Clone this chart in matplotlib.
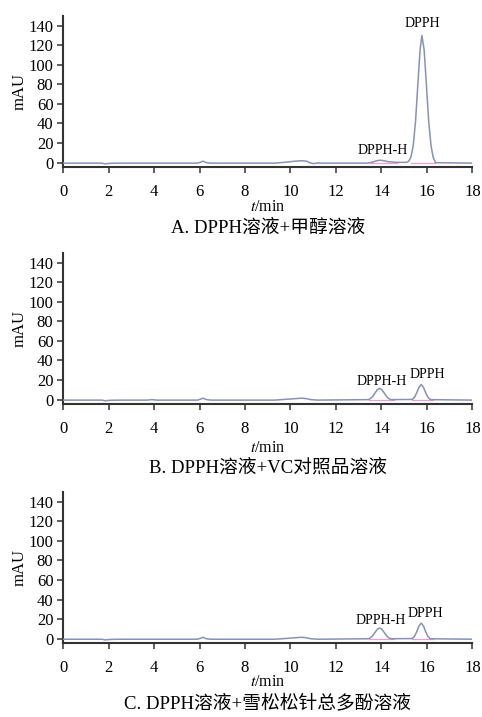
import numpy as np
import matplotlib.pyplot as plt

plt.rcParams['font.family'] = ['Liberation Serif', 'Noto Sans CJK SC']
plt.rcParams['mathtext.fontset'] = 'stix'

# retention time (min) and absorbance (mAU)
t_a = [0, 1.7, 1.85, 2.0, 2.2, 2.6, 5.9, 6.05, 6.15, 6.3, 6.5, 9.3, 9.8, 10.2, 10.5,
       10.7, 10.85, 11.0, 11.2, 11.4, 13.4, 13.6, 13.8, 13.95, 14.1, 14.3, 14.7, 15.1,
       15.2, 15.3, 15.4, 15.5, 15.6, 15.7, 15.78, 15.88, 15.98, 16.08, 16.18, 16.28, 16.38, 18]
y_a = [-0.5, -0.5, -1.2, -0.8, -0.6, -0.5, -0.5, 0.5, 1.5, 0, -0.5, -0.5, 0.5, 1.5, 2.0,
       1.5, 0, -1.0, -0.3, -0.5, -0.5, 0.5, 2.0, 2.5, 2.0, 1.0, 0.3, 0.3,
       1.4, 5.7, 17.6, 42, 79, 115, 130, 115, 79, 42, 17.6, 5, 0, -0.5]

t_b = [0, 1.7, 1.85, 2.0, 2.2, 2.6, 3.7, 3.9, 4.1, 5.9, 6.05, 6.15, 6.3, 6.5, 9.3, 9.8,
       10.2, 10.5, 10.7, 10.9, 11.2, 13.42, 13.52, 13.62, 13.72, 13.82, 13.92, 14.02, 14.12,
       14.22, 14.32, 14.42, 15.35, 15.45, 15.55, 15.65, 15.75, 15.85, 15.95, 16.05, 16.15, 18]
y_b = [-0.5, -0.5, -1.2, -0.8, -0.6, -0.5, -0.5, 0, -0.5, -0.5, 0.5, 1.5, 0, -0.5, -0.5, 0.3,
       1.0, 1.5, 1.0, 0, -0.5, 0, 1.1, 3.4, 6.8, 10.1, 11.5, 10.1, 6.8,
       3.4, 1.1, 0, 0.2, 2.2, 6.8, 12.5, 15.5, 12.5, 6.8, 2.2, 0, -0.5]

t_c = [0, 1.7, 1.85, 2.0, 2.2, 2.6, 5.9, 6.05, 6.15, 6.3, 6.5, 9.3, 9.8, 10.2, 10.5,
       10.7, 10.9, 11.2, 13.42, 13.52, 13.62, 13.72, 13.82, 13.92, 14.02, 14.12,
       14.22, 14.32, 14.42, 15.35, 15.45, 15.55, 15.65, 15.75, 15.85, 15.95, 16.05, 16.15, 18]
y_c = [-0.5, -0.5, -1.2, -0.8, -0.6, -0.5, -0.5, 0.5, 1.5, 0, -0.5, -0.5, 0.3, 1.0, 1.5,
       1.0, 0, -0.5, 0, 1.0, 3.2, 6.5, 9.7, 11.0, 9.7, 6.5,
       3.2, 1.0, 0, 0.2, 2.2, 7, 13, 16, 13, 7, 2.2, 0, -0.5]

# integration baselines (start, end) under the peaks
base_a = [(13.5, 14.7), (15.3, 16.35)]
base_b = [(13.45, 14.55), (15.35, 16.25)]
base_c = [(13.45, 14.55), (15.35, 16.25)]

# peak labels: (text, t, mAU)
labels_a = [("DPPH-H", 14.05, 12), ("DPPH", 15.8, 142)]
labels_b = [("DPPH-H", 14.0, 19), ("DPPH", 16.0, 26)]
labels_c = [("DPPH-H", 13.98, 19), ("DPPH", 15.95, 26)]

captions = ["A. DPPH溶液+甲醇溶液", "B. DPPH溶液+VC对照品溶液", "C. DPPH溶液+雪松松针总多酚溶液"]

panels = [(t_a, y_a, base_a, labels_a), (t_b, y_b, base_b, labels_b), (t_c, y_c, base_c, labels_c)]
bottoms = [0.767, 0.4365, 0.103]
xlabel_y = [0.7113, 0.3752, 0.0488]
caption_y = [0.682, 0.347, 0.0195]

fig = plt.figure(figsize=(4.82, 7.17), dpi=100)
line_col = '#8891b8'
pink = '#e7a0cf'

for (t, y, base, labels), cap, b, xy, cy in zip(panels, captions, bottoms, xlabel_y, caption_y):
    ax = fig.add_axes([0.131, b, 0.849, 0.211])
    for s, e in base:
        ax.plot([s, e], [-0.4, -0.4], color=pink, lw=0.9, zorder=2)
    ax.plot(t, y, color=line_col, lw=1.1, zorder=3)
    for txt, x, yy in labels:
        ax.text(x, yy, txt, ha='center', va='center', fontsize=10)
    ax.set_xlim(0, 18)
    ax.set_ylim(-4.5, 150)
    ax.set_xticks(range(0, 19, 2))
    ax.set_yticks(range(0, 141, 20))
    ax.spines['top'].set_visible(False)
    ax.spines['right'].set_visible(False)
    for sp in ['left', 'bottom']:
        ax.spines[sp].set_linewidth(1.5)
        ax.spines[sp].set_color('#333333')
    ax.tick_params(direction='out', length=4, width=1.1, color='#333333', labelsize=12)
    ax.tick_params(axis='x', pad=8)
    ax.tick_params(axis='y', pad=3)
    ax.set_ylabel('mAU', fontsize=12)
    ax.yaxis.set_label_coords(-0.086, 0.5)
    fig.text(0.5 * (0.131 + 0.98), xy, '$t$/min', ha='center', va='center', fontsize=11.5)
    fig.text(0.5 * (0.131 + 0.98), cy, cap, ha='center', va='center', fontsize=13.5)

fig.savefig('out.png', dpi=100)
